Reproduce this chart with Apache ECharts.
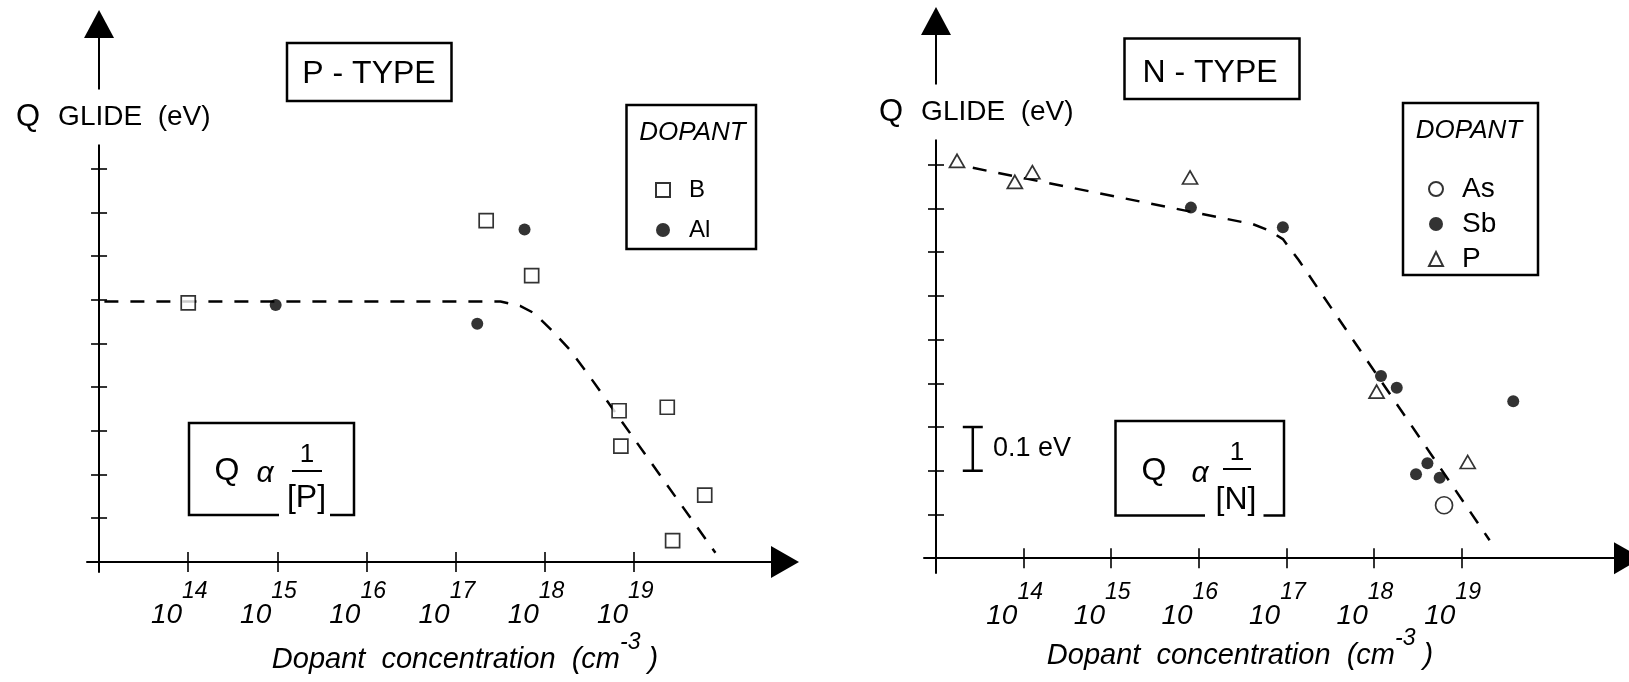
<!DOCTYPE html>
<html>
<head>
<meta charset="utf-8">
<script src="https://cdn.jsdelivr.net/npm/echarts@6/dist/echarts.min.js"></script>
<style>
html,body{margin:0;padding:0;background:#fff;}
#c{width:1629px;height:682px;}
</style>
</head>
<body>
<div id="c"></div>
<script>
// ---------------- DATA ----------------
// x: log10 of dopant concentration (cm^-3); y: Q glide, relative (eV), one tick = 0.1 eV
const X_TICK_EXPONENTS = [14, 15, 16, 17, 18, 19];
const Y_TICKS = [0.1, 0.2, 0.3, 0.4, 0.5, 0.6, 0.7, 0.8, 0.9];

// P-type panel
const B_EXP  = [14.00, 17.34, 17.85, 18.83, 19.37, 18.85, 19.79, 19.43];
const B_Q    = [0.593, 0.781, 0.655, 0.346, 0.354, 0.265, 0.153, 0.049];
const AL_EXP = [14.98, 17.24, 17.77];
const AL_Q   = [0.588, 0.545, 0.761];
const P_TREND_EXP = [13.06, 17.50, 17.72, 17.88, 18.09, 18.28, 18.47, 19.91];
const P_TREND_Q   = [0.596, 0.596, 0.586, 0.569, 0.527, 0.485, 0.433, 0.021];

// N-type panel
const AS_EXP = [18.80];
const AS_Q   = [0.121];
const SB_EXP = [15.91, 16.96, 18.08, 18.26, 19.59, 18.61, 18.48, 18.75];
const SB_Q   = [0.802, 0.757, 0.417, 0.390, 0.359, 0.217, 0.192, 0.184];
const PN_EXP = [13.24, 13.90, 14.10, 15.90, 18.03, 19.07];
const PN_Q   = [0.909, 0.861, 0.883, 0.871, 0.381, 0.220];
const N_TREND_EXP = [13.42, 16.62, 16.80, 16.96, 17.14, 19.32];
const N_TREND_Q   = [0.893, 0.764, 0.750, 0.730, 0.682, 0.041];

// 0.1 eV scale bar (N-type panel)
const SCALE_BAR_EXP = 13.42;
const SCALE_BAR_Q = [0.2, 0.3];

// ---------------- CHART ----------------
const ORIGIN_EXP = 13;   // axes cross at 10^13
const FONT = "'Liberation Sans', Arial, sans-serif";
const pts = (xs, ys) => xs.map((x, i) => [x - ORIGIN_EXP, ys[i]]);
const xTicks = X_TICK_EXPONENTS.map(e => e - ORIGIN_EXP);

function xAxes(grid, yIdx, min, max) {
  const base = {type: 'value', gridIndex: grid, min: min, max: max, position: 'bottom', splitLine: {show: false}};
  return [
    Object.assign({}, base, {
      axisLine: {onZero: true, onZeroAxisIndex: yIdx, symbol: ['none', 'triangle'], symbolSize: [32, 28],
                 lineStyle: {color: '#000', width: 2}},
      axisTick: {customValues: xTicks, length: 10, lineStyle: {color: '#000', width: 1.6}},
      axisLabel: {customValues: xTicks, margin: 8, padding: [0, 18, 0, 0],
        formatter: v => '{b|10}{s|' + Math.round(v + ORIGIN_EXP) + '}',
        rich: {
          b: {fontSize: 28, fontStyle: 'italic', fontFamily: FONT, color: '#000', padding: [21, 0, 0, 0], verticalAlign: 'bottom'},
          s: {fontSize: 23, fontStyle: 'italic', fontFamily: FONT, color: '#000', verticalAlign: 'top'}
        }}
    }),
    Object.assign({}, base, {
      axisLine: {show: true, onZero: true, onZeroAxisIndex: yIdx, lineStyle: {opacity: 0}},
      axisTick: {customValues: xTicks, inside: true, length: 10, lineStyle: {color: '#000', width: 1.6}},
      axisLabel: {show: false}
    })
  ];
}
function yAxes(grid, xIdx, min, max) {
  const base = {type: 'value', gridIndex: grid, min: min, max: max, position: 'left', splitLine: {show: false}, axisLabel: {show: false}};
  return [
    Object.assign({}, base, {
      axisLine: {onZero: true, onZeroAxisIndex: xIdx, symbol: ['none', 'triangle'], symbolSize: [30, 28],
                 lineStyle: {color: '#000', width: 2}},
      axisTick: {customValues: Y_TICKS, length: 8, lineStyle: {color: '#000', width: 1.6}}
    }),
    Object.assign({}, base, {
      axisLine: {show: true, onZero: true, onZeroAxisIndex: xIdx, lineStyle: {opacity: 0}},
      axisTick: {customValues: Y_TICKS, inside: true, length: 8, lineStyle: {color: '#000', width: 1.6}}
    })
  ];
}

const dash = {color: '#000', width: 2.5, type: [14, 12]};
const hollow = {color: '#fff', borderColor: '#000', borderWidth: 1.7};

function txt(x, y, text, size, opts) {
  return Object.assign({type: 'text', x: x, y: y, z: 50,
    style: Object.assign({text: text, fontSize: size, fontFamily: FONT, fill: '#000', align: 'center', verticalAlign: 'middle'}, (opts || {}))});
}
function box(x, y, w, h) {
  return {type: 'rect', z: 40, shape: {x: x, y: y, width: w, height: h}, style: {fill: 'none', stroke: '#000', lineWidth: 2.5}};
}
function openBox(points) {
  return {type: 'polyline', z: 40, shape: {points: points}, style: {fill: 'none', stroke: '#000', lineWidth: 2.5}};
}
function yName(x, y) {
  return {type: 'text', x: x, y: y, z: 60, style: {
    text: '{q|Q}{g|GLIDE  (eV)}', align: 'left', verticalAlign: 'middle', backgroundColor: '#fff', padding: [12, 4, 12, 2],
    rich: {q: {fontSize: 31, fontFamily: FONT, fill: '#000', padding: [0, 18, 0, 0]},
           g: {fontSize: 28, fontFamily: FONT, fill: '#000'}}}};
}
function xName(cx, top) {
  return {type: 'text', x: cx, y: top, z: 50, style: {
    text: '{m|Dopant  concentration  (cm}{s|-3}{m| )}', align: 'center', verticalAlign: 'top',
    rich: {m: {fontSize: 29, fontStyle: 'italic', fontFamily: FONT, fill: '#000', padding: [14, 0, 0, 0], verticalAlign: 'bottom'},
           s: {fontSize: 23, fontStyle: 'italic', fontFamily: FONT, fill: '#000', verticalAlign: 'top'}}}};
}

const chart = echarts.init(document.getElementById('c'), null, {renderer: 'canvas'});
chart.setOption({
  backgroundColor: '#fff',
  animation: false,
  grid: [
    {left: 87, top: 24, width: 698, height: 548},
    {left: 924, top: 21, width: 704, height: 552}
  ],
  xAxis: [].concat(xAxes(0, 0, -0.135, 7.69), xAxes(1, 2, -0.137, 7.90)),
  yAxis: [].concat(yAxes(0, 0, -0.023, 1.231), yAxes(1, 2, -0.034, 1.229)),
  legend: [
    {data: ['B', 'Al'], orient: 'vertical', left: 655, top: 178, padding: 0, itemWidth: 14, itemHeight: 14, itemGap: 16,
     selectedMode: false, textStyle: {fontFamily: FONT, fontSize: 24, lineHeight: 24, color: '#000', padding: [0, 0, 0, 14]}},
    {data: ['As', 'Sb', 'P'], orient: 'vertical', left: 1428, top: 175, padding: 0, itemWidth: 14, itemHeight: 14, itemGap: 7,
     selectedMode: false, textStyle: {fontFamily: FONT, fontSize: 28, lineHeight: 26, color: '#000', padding: [0, 0, 0, 14]}}
  ],
  series: [
    {type: 'line', name: 'P-type trend', xAxisIndex: 0, yAxisIndex: 0, data: pts(P_TREND_EXP, P_TREND_Q),
     symbol: 'none', lineStyle: dash, silent: true, z: 1},
    {type: 'scatter', name: 'B', xAxisIndex: 0, yAxisIndex: 0, data: pts(B_EXP, B_Q),
     symbol: 'rect', symbolSize: 14, itemStyle: hollow, z: 3},
    {type: 'scatter', name: 'Al', xAxisIndex: 0, yAxisIndex: 0, data: pts(AL_EXP, AL_Q),
     symbol: 'circle', symbolSize: 12, itemStyle: {color: '#000'}, z: 3},
    {type: 'line', name: 'N-type trend', xAxisIndex: 2, yAxisIndex: 2, data: pts(N_TREND_EXP, N_TREND_Q),
     symbol: 'none', lineStyle: dash, silent: true, z: 1},
    {type: 'scatter', name: 'As', xAxisIndex: 2, yAxisIndex: 2, data: pts(AS_EXP, AS_Q),
     symbol: 'circle', symbolSize: 17, itemStyle: hollow, z: 3},
    {type: 'scatter', name: 'Sb', xAxisIndex: 2, yAxisIndex: 2, data: pts(SB_EXP, SB_Q),
     symbol: 'circle', symbolSize: 12, itemStyle: {color: '#000'}, z: 3},
    {type: 'scatter', name: 'P', xAxisIndex: 2, yAxisIndex: 2, data: pts(PN_EXP, PN_Q),
     symbol: 'triangle', symbolSize: [15, 13], itemStyle: hollow, z: 3},
    {type: 'line', name: '0.1 eV', xAxisIndex: 2, yAxisIndex: 2,
     data: SCALE_BAR_Q.map(q => [SCALE_BAR_EXP - ORIGIN_EXP, q]),
     symbol: 'rect', symbolSize: [20, 2.5], showSymbol: true, itemStyle: {color: '#000'},
     lineStyle: {color: '#000', width: 2.5}, silent: true, z: 3}
  ],
  graphic: [
    // P-type panel
    box(287, 43, 164.5, 58),
    txt(369, 74, 'P - TYPE', 32),
    yName(14, 117),
    box(626.5, 105, 129.5, 144),
    txt(692.5, 133, 'DOPANT', 26, {fontStyle: 'italic'}),
    openBox([[279, 515], [189, 515], [189, 423], [354, 423], [354, 515], [330, 515]]),
    txt(227, 471, 'Q', 32),
    txt(265, 474, 'α', 30, {fontStyle: 'italic'}),
    txt(307, 455, '1', 26),
    {type: 'line', z: 40, shape: {x1: 292, y1: 471, x2: 322, y2: 471}, style: {stroke: '#000', lineWidth: 2}},
    txt(306.5, 498, '[P]', 32),
    xName(465, 631),
    // N-type panel
    box(1124.5, 38.5, 175, 60.5),
    txt(1210, 73, 'N - TYPE', 32),
    yName(877, 112),
    box(1403, 103, 135, 172),
    txt(1469, 131, 'DOPANT', 26, {fontStyle: 'italic'}),
    openBox([[1205, 515.5], [1115.5, 515.5], [1115.5, 421], [1284, 421], [1284, 515.5], [1263.5, 515.5]]),
    txt(1154, 471, 'Q', 32),
    txt(1200, 474, 'α', 30, {fontStyle: 'italic'}),
    txt(1237, 453, '1', 26),
    {type: 'line', z: 40, shape: {x1: 1223, y1: 469, x2: 1251, y2: 469}, style: {stroke: '#000', lineWidth: 2}},
    txt(1236, 500, '[N]', 32),
    txt(993, 449, '0.1 eV', 27, {align: 'left'}),
    xName(1240, 627)
  ]
});
</script>
</body>
</html>
